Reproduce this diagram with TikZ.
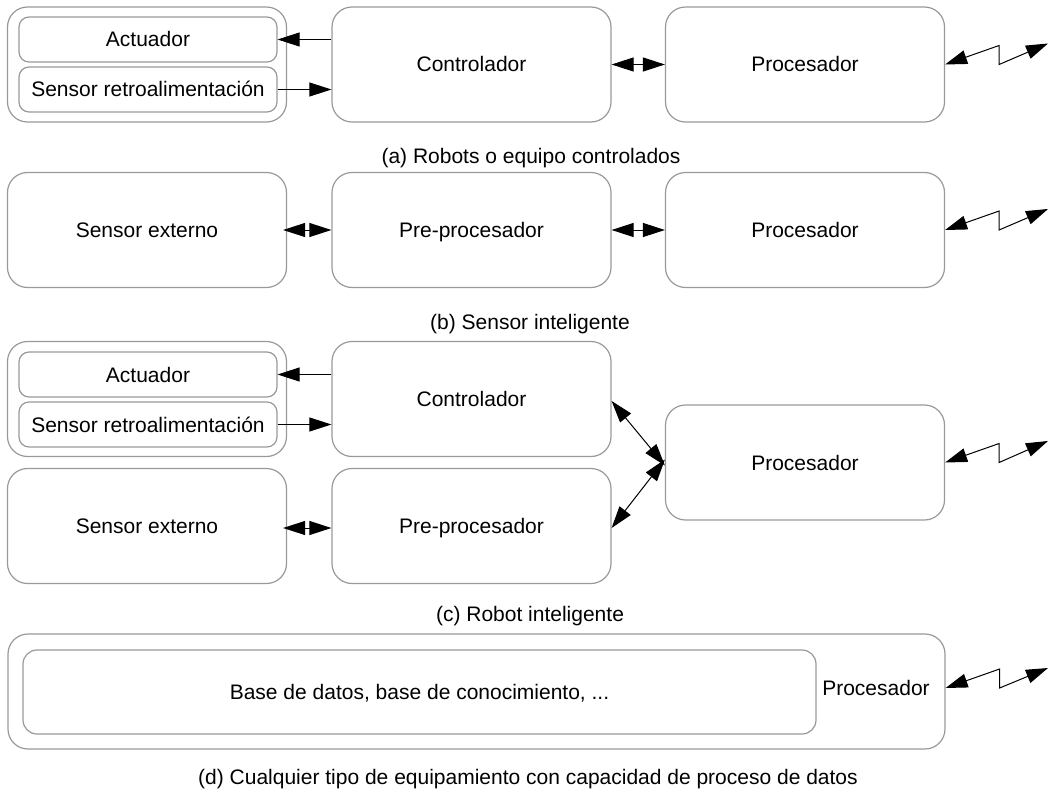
\documentclass[tikz,border=0pt]{standalone}
\usepackage{fontspec}
\setmainfont{Liberation Sans}
\usetikzlibrary{arrows.meta,calc}
\begin{document}
\begin{tikzpicture}[x=1pt,y=-1pt,
  font=\fontsize{21}{25}\selectfont,
  bigbox/.style={draw=black!40,line width=1.2pt,rounded corners=20pt,inner sep=0pt,
    minimum width=279pt,minimum height=115pt,align=center,text height=15pt,text depth=0pt},
  smallbox/.style={draw=black!40,line width=1.2pt,rounded corners=10pt,inner sep=0pt,
    minimum width=258pt,minimum height=45pt,text height=15pt,text depth=0pt},
  arr/.style={line width=1pt,-{Triangle[length=22pt,width=14pt]}},
  dbl/.style={line width=1pt,{Triangle[length=22pt,width=14pt]}-{Triangle[length=22pt,width=14pt]}},
  captext/.style={inner sep=0pt,text height=15pt,text depth=0pt}
]
\useasboundingbox (0,0) rectangle (1049,789);
% ---------- (a)
\node[bigbox] (ga) at (147,64.5) {};
\node[smallbox] (acta) at (148,39.5) {Actuador};
\node[smallbox] (sena) at (148,89.5) {Sensor retroalimentación};
\node[bigbox] (ctla) at (471.5,64.5) {Controlador};
\node[bigbox] (proa) at (805,64.5) {Procesador};
\draw[arr] (ctla.west |- acta.east) -- (acta.east);
\draw[arr] (sena.east) -- (ctla.west |- sena.east);
\draw[dbl] (ctla.east) -- (proa.west);
\coordinate (za) at (1048,43.5);
\draw[dbl] (proa.east) -- ++(54,-19) -- ++(0,19) -- (za);
\node[captext] (capa) at (531,155.5) {(a) Robots o equipo controlados};
% ---------- (b)
\node[bigbox] (sexb) at (147,230) {Sensor externo};
\node[bigbox] (preb) at (471.5,230) {Pre-procesador};
\node[bigbox] (prob) at (805,230) {Procesador};
\draw[dbl] ([xshift=-4pt]sexb.east) -- (preb.west);
\draw[dbl] (preb.east) -- (prob.west);
\coordinate (zb) at (1048,209);
\draw[dbl] (prob.east) -- ++(54,-19) -- ++(0,19) -- (zb);
\node[captext] (capb) at (530,321.5) {(b) Sensor inteligente};
% ---------- (c)
\node[bigbox] (gc) at (147,399) {};
\node[smallbox] (actc) at (148,374.5) {Actuador};
\node[smallbox] (senc) at (148,424.5) {Sensor retroalimentación};
\node[bigbox] (ctlc) at (471.5,399) {Controlador};
\node[bigbox] (sexc) at (147,526) {Sensor externo};
\node[bigbox] (prec) at (471.5,526) {Pre-procesador};
\node[bigbox] (proc) at (805,462.5) {Procesador};
\draw[arr] (ctlc.west |- actc.east) -- (actc.east);
\draw[arr] (senc.east) -- (ctlc.west |- senc.east);
\draw[dbl] ([xshift=-4pt,yshift=-2pt]sexc.east) -- ([yshift=-2pt]prec.west);
\draw[dbl] ([yshift=-2pt]ctlc.east) -- ([yshift=-3pt]proc.west);
\draw[dbl] ([yshift=3pt]proc.west) -- ([yshift=-2pt]prec.east);
\coordinate (zc) at (1048,441);
\draw[dbl] (proc.east) -- ++(54,-19) -- ++(0,19) -- (zc);
\node[captext] (capc) at (530,613.5) {(c) Robot inteligente};
% ---------- (d)
\node[bigbox,minimum width=937pt,minimum height=115pt] (gd) at (476.5,691.5) {};
\node[bigbox,rounded corners=14pt,minimum width=793pt,minimum height=84pt] (dbd) at (419.5,692) {Base de datos, base de conocimiento, ...};
\node[captext] (prd) at (876,688) {Procesador};
\coordinate (zd) at (1048,668);
\draw[dbl] (gd.east |- prd) -- ++(54,-19) -- ++(0,19) -- (zd);
\node[captext] (capd) at (528,777) {(d) Cualquier tipo de equipamiento con capacidad de proceso de datos};
\end{tikzpicture}
\end{document}
